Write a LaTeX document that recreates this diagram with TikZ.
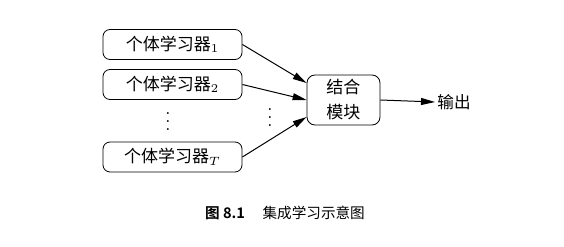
\documentclass[tikz,border=0pt]{standalone}
\usepackage{fontspec}
\newfontfamily\cjk{Noto Sans CJK SC}[BoldFont={Noto Sans CJK SC Bold}]
\usepackage{tikz}
\usetikzlibrary{arrows.meta,positioning,calc}

\begin{document}
\begin{tikzpicture}[
    x=0.5pt, y=0.5pt,
    learner/.style={rectangle, draw=black, rounded corners=3.5pt, align=center, minimum height=15pt, minimum width=69.5pt, inner sep=0pt, font=\cjk\fontsize{8.5pt}{10pt}\selectfont},
    combbox/.style={rectangle, draw=black, rounded corners=4pt, align=center, minimum height=25pt, minimum width=36.5pt, inner sep=0pt, font=\cjk\fontsize{8.5pt}{12.5pt}\selectfont},
    dotsnode/.style={inner sep=0pt, font=\fontsize{9pt}{10pt}\selectfont},
    arrow/.style={-{Stealth[length=7pt, width=3.5pt, inset=0pt]}, line width=0.5pt, draw=black}
]
    \useasboundingbox (0,0) rectangle (564,247);

    \node [learner] (learner1) at (172.5,202.5) {个体学习器$_1$};
    \node [learner] (learner2) at (172.5,162.5) {个体学习器$_2$};
    \node [learner] (learnerT) at (172.5,90) {个体学习器$_T$};
    \node [dotsnode] (dotsL) at (168,131) {$\vdots$};
    \node [dotsnode] (dotsR) at (270,135) {$\vdots$};

    \node [combbox] (combiner) at (343.5,147) {结合\\模块};
    \node [font=\cjk\fontsize{8.3pt}{10pt}\selectfont, anchor=west, inner sep=0pt] (output) at (437,145) {输出};

    \draw [arrow] (learner1.east) -- ($(combiner.west)+(0,17)$);
    \draw [arrow] (learner2.east) -- (combiner.west);
    \draw [arrow] (learnerT.east) -- ($(combiner.west)+(0,-17)$);
    \draw [arrow] (combiner.east) -- ($(output.west)+(-2,0)$);

    \node [font=\cjk\fontsize{7.3pt}{9pt}\selectfont] (caption) at (285,34) {{\bfseries 图 8.1}\hspace{1.2em}集成学习示意图};
\end{tikzpicture}
\end{document}
